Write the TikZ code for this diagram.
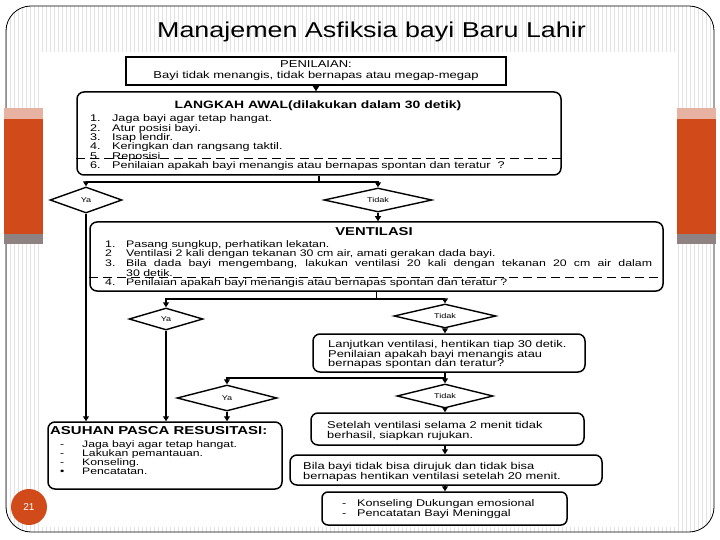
\documentclass[tikz,border=0pt]{standalone}
\usepackage{fontspec}
\setmainfont{Liberation Sans}
\newfontfamily\flowfont[FakeStretch=1.3]{Liberation Sans}
\newfontfamily\headfont[FakeStretch=1.25]{Liberation Sans}
\usetikzlibrary{shapes.geometric,arrows.meta}

\definecolor{slideorange}{RGB}{208,74,26}
\definecolor{slidepink}{RGB}{232,178,162}
\definecolor{slidegrey}{RGB}{142,130,130}
\definecolor{stripegrey}{RGB}{226,226,226}

\tikzset{
  box/.style={draw, line width=1.5pt, rounded corners=7pt, inner sep=0pt},
  sqbox/.style={draw, line width=1.5pt, inner sep=0pt},
  choice/.style={draw, diamond, aspect=4, inner sep=0pt, line width=1.4pt,
    font=\flowfont\fontsize{7}{8}\selectfont},
  link/.style={line width=1.2pt},
  arr/.style={link, -{Triangle[length=5pt,width=6pt]}},
  sep/.style={line width=1pt, dash pattern=on 9pt off 5pt},
  lines/.style={anchor=north west, inner sep=0pt, align=left,
    font=\flowfont\fontsize{9.7}{9.4}\selectfont},
  head/.style={inner sep=0pt, font=\flowfont\bfseries\fontsize{10.7}{12}\selectfont},
}

\begin{document}
\begin{tikzpicture}[x=1pt,y=-1pt]
  \useasboundingbox (0,0) rectangle (720,540);

  % slide background
  \begin{scope}
    \clip[rounded corners=25pt] (6,6) rectangle (714,532);
    \foreach \x in {2,6,...,718}
      \draw[stripegrey, line width=0.7pt] (\x,0) -- (\x,540);
  \end{scope}
  \draw[line width=0.8pt, rounded corners=25pt] (6,6) rectangle (714,532);
  \fill[white] (42,52) rectangle (678,527);

  % side bars
  \foreach \x in {4,677} {
    \fill[slidepink] (\x,108) rectangle ++(39,11);
    \fill[slideorange] (\x,119) rectangle ++(39,115);
    \fill[slidegrey] (\x,234) rectangle ++(39,10);
  }

  \node[anchor=base, inner sep=0pt, font=\headfont\fontsize{21.5}{24}\selectfont] (judul)
    at (371.5,37.5) {Manajemen Asfiksia bayi Baru Lahir};

  % boxes
  \node[sqbox, minimum width=380pt, minimum height=28pt, align=center,
    font=\flowfont\fontsize{10}{11}\selectfont] (nilai) at (316,71)
    {PENILAIAN:\\Bayi tidak menangis, tidak bernapas atau megap-megap};
  \node[box, minimum width=484pt, minimum height=83pt] (awal) at (319,133.5) {};
  \node[box, minimum width=573pt, minimum height=69pt] (vent) at (376.5,256.5) {};
  \node[box, minimum width=272pt, minimum height=38pt] (lanjut) at (449,353) {};
  \node[box, minimum width=273pt, minimum height=32pt] (setelah) at (447.5,429) {};
  \node[box, minimum width=312pt, minimum height=30pt] (bila) at (446,470) {};
  \node[box, minimum width=245pt, minimum height=33pt, rounded corners=6pt] (konsel) at (444.5,508.5) {};
  \node[box, minimum width=234pt, minimum height=67pt] (asuhan) at (165,455.5) {};

  % decisions
  \node[choice, minimum width=72pt, minimum height=26pt] (ya1) at (86,200) {Ya};
  \node[choice, minimum width=108pt, minimum height=24pt] (tidak1) at (378,200) {Tidak};
  \node[choice, minimum width=74pt, minimum height=22pt] (ya2) at (166,319) {Ya};
  \node[choice, minimum width=102pt, minimum height=24pt] (tidak2) at (445,316) {Tidak};
  \node[choice, minimum width=100pt, minimum height=26pt] (ya3) at (227,398) {Ya};
  \node[choice, minimum width=96pt, minimum height=24pt] (tidak3) at (445,396) {Tidak};

  % LANGKAH AWAL
  \node[head] (awaljudul) at (318,105.5) {LANGKAH AWAL(dilakukan dalam 30 detik)};
  \node[lines] (awalisi) at (90,114.5) {%
    \makebox[22pt][l]{1.}Jaga bayi agar tetap hangat.\\
    \makebox[22pt][l]{2.}Atur posisi bayi.\\
    \makebox[22pt][l]{3.}Isap lendir.\\
    \makebox[22pt][l]{4.}Keringkan dan rangsang taktil.\\
    \makebox[22pt][l]{5.}Reposisi.\\
    \makebox[22pt][l]{6.}Penilaian apakah bayi menangis atau bernapas spontan dan teratur\ \ ?};
  \draw[sep] (awal.west |- 0,158.5) -- (awal.east |- 0,158.5);

  % VENTILASI
  \node[head, font=\flowfont\bfseries\fontsize{11.4}{12}\selectfont] (ventjudul) at (374,231.5) {VENTILASI};
  \node[lines, font=\flowfont\fontsize{9.5}{8.3}\selectfont] (ventisi) at (105,240) {%
    \makebox[21pt][l]{1.}Pasang sungkup, perhatikan lekatan.\\
    \makebox[21pt][l]{2}Ventilasi 2 kali dengan tekanan 30 cm air, amati gerakan dada bayi.\\
    \makebox[21pt][l]{3.}\makebox[526pt][s]{Bila dada bayi mengembang, lakukan ventilasi 20 kali dengan tekanan 20 cm air dalam}\\
    \makebox[21pt][l]{}30 detik.};
  \node[lines, font=\flowfont\fontsize{9.5}{8.3}\selectfont] (ventnilai) at (105,278.5) {%
    \makebox[21pt][l]{4.}Penilaian apakah bayi menangis atau bernapas spontan dan teratur ?};
  \draw[sep] (vent.west |- 0,277.5) -- (vent.east |- 0,277.5);

  % right column texts
  \node[lines, font=\flowfont\fontsize{9.9}{9.5}\selectfont] (lanjutisi) at (328,340.5) {%
    Lanjutkan ventilasi, hentikan tiap 30 detik.\\
    Penilaian apakah bayi menangis atau\\
    bernapas spontan dan teratur?};
  \node[lines, font=\flowfont\fontsize{9.9}{10}\selectfont] (setelahisi) at (327,421) {%
    Setelah ventilasi selama 2 menit tidak\\
    berhasil, siapkan rujukan.};
  \node[lines, font=\flowfont\fontsize{9.9}{10}\selectfont] (bilaisi) at (303,462) {%
    Bila bayi tidak bisa dirujuk dan tidak bisa\\
    bernapas hentikan ventilasi setelah 20 menit.};
  \node[lines, font=\flowfont\fontsize{9.7}{9.3}\selectfont] (konselisi) at (342,499.5) {%
    \makebox[15pt][l]{-}Konseling Dukungan emosional\\
    \makebox[15pt][l]{-}Pencatatan Bayi Meninggal};

  % ASUHAN PASCA RESUSITASI
  \node[head, anchor=west, font=\flowfont\bfseries\fontsize{11.5}{12}\selectfont] (asuhanjudul)
    at (50,431) {ASUHAN PASCA RESUSITASI:};
  \node[lines, font=\flowfont\fontsize{9.4}{9}\selectfont] (asuhanisi) at (60,440.5) {%
    \makebox[22pt][l]{-}Jaga bayi agar tetap hangat.\\
    \makebox[22pt][l]{-}Lakukan pemantauan.\\
    \makebox[22pt][l]{-}Konseling.\\
    \makebox[22pt][l]{•}Pencatatan.};

  % connectors
  \draw[arr] (nilai.south) -- (nilai.south |- awal.north);
  \coordinate (pisah1) at (awal.south |- 0,182);
  \draw[link] (awal.south) -- (pisah1);
  \draw[arr] (pisah1) -| (ya1.north);
  \draw[arr] (pisah1) -| (tidak1.north);
  \draw[arr] (ya1.south) -- (ya1.south |- asuhan.north);
  \draw[arr] (tidak1.south) -- (tidak1.south |- vent.north);

  \coordinate (pisah2) at (vent.south |- 0,299);
  \draw[link] (vent.south) -- (pisah2);
  \draw[arr] (pisah2) -| (ya2.north);
  \draw[arr] (pisah2) -| (tidak2.north);
  \draw[arr] (ya2.south) -- (ya2.south |- asuhan.north);
  \draw[arr] (tidak2.south) -- (tidak2.south |- lanjut.north);

  \coordinate (pisah3) at (tidak3.north |- 0,378);
  \draw[arr] (tidak3.north |- lanjut.south) -- (tidak3.north);
  \draw[arr] (pisah3) -| (ya3.north);
  \draw[arr] (ya3.south) -- (ya3.south |- asuhan.north);
  \draw[arr] (tidak3.south) -- (tidak3.south |- setelah.north);
  \draw[arr] (tidak3.south |- setelah.south) -- (tidak3.south |- bila.north);
  \draw[arr] (tidak3.south |- bila.south) -- (tidak3.south |- konsel.north);

  % page number
  \node[circle, fill=slideorange, minimum size=36pt, inner sep=0pt, text=white,
    font=\fontsize{10}{12}\selectfont] (halaman) at (29,507) {21};
\end{tikzpicture}
\end{document}
